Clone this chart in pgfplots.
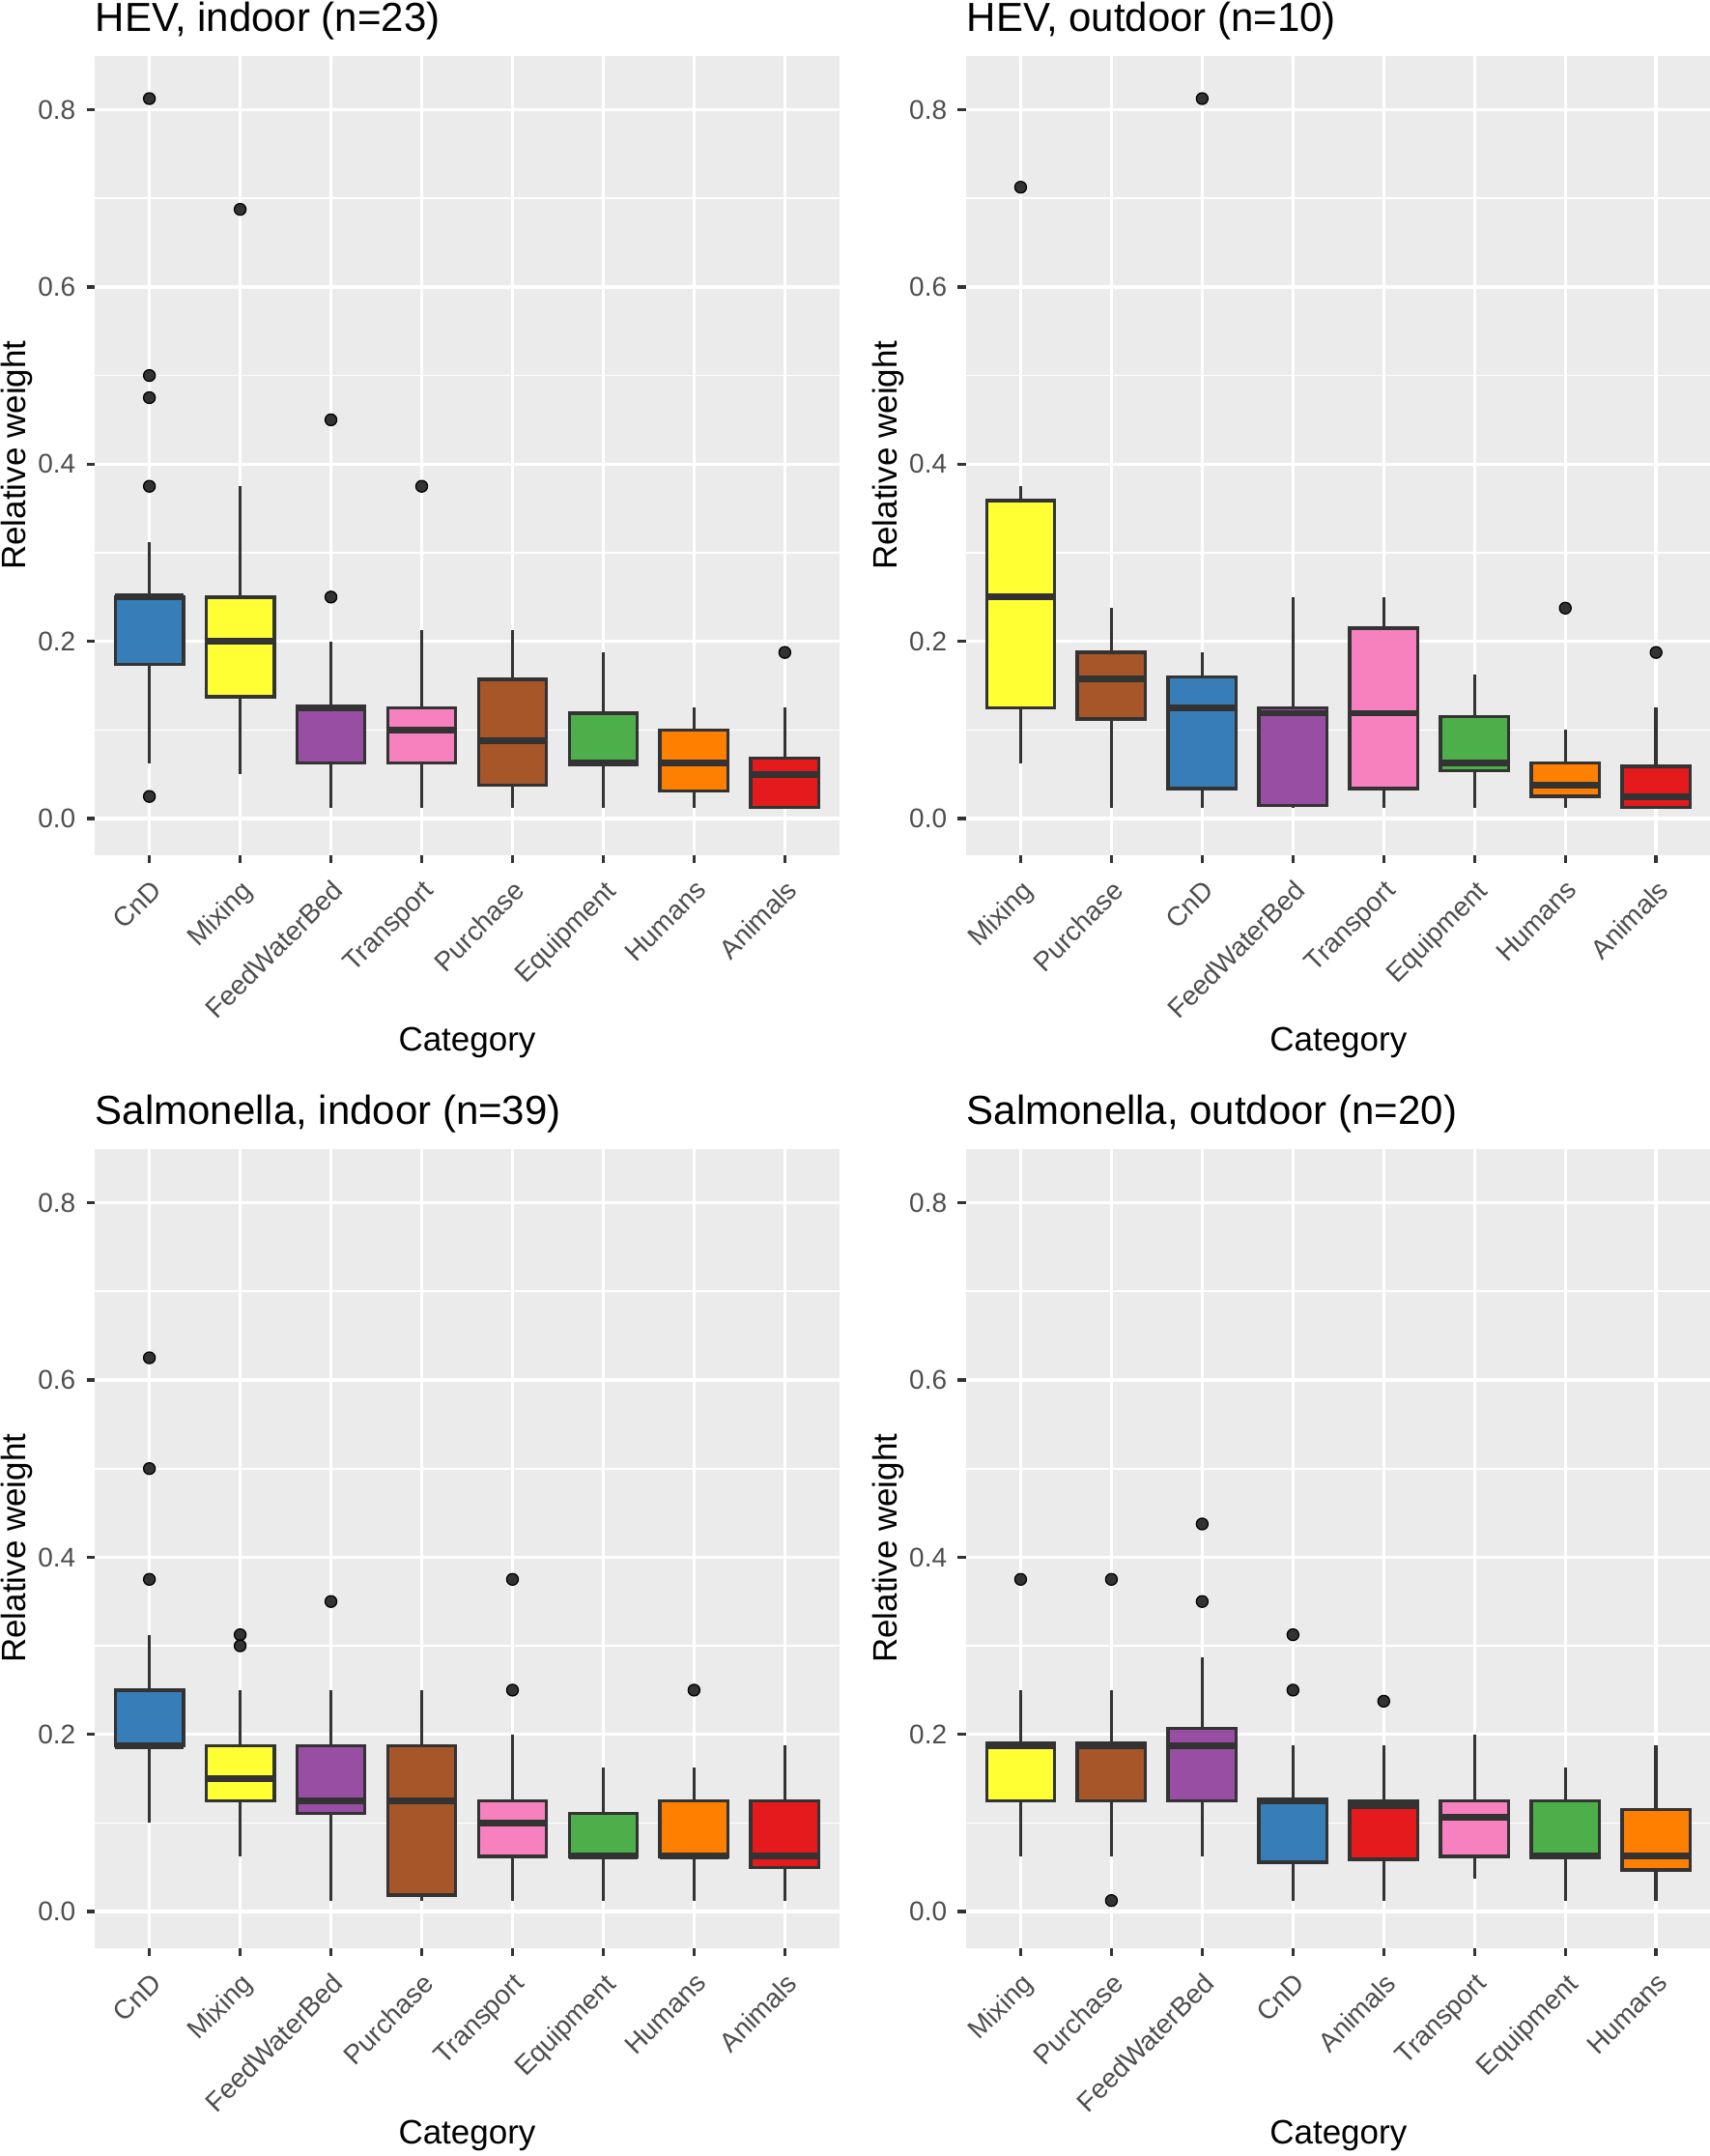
\documentclass[border=0pt]{standalone}
\usepackage{pgfplots}
\pgfplotsset{compat=1.18}
\usepackage{fontspec}
\setmainfont{Liberation Sans}
\definecolor{ggbg}{HTML}{EBEBEB}
\definecolor{gg20}{HTML}{333333}
\definecolor{gg30}{HTML}{4D4D4D}
\definecolor{cCnD}{HTML}{377EB8}
\definecolor{cMix}{HTML}{FFFF33}
\definecolor{cFWB}{HTML}{984EA3}
\definecolor{cTra}{HTML}{F781BF}
\definecolor{cPur}{HTML}{A65628}
\definecolor{cEqu}{HTML}{4DAF4A}
\definecolor{cHum}{HTML}{FF7F00}
\definecolor{cAni}{HTML}{E41A1C}
\pgfplotsset{
 gg/.style={
  scale only axis, width=242.3pt, height=260.1pt,
  xmin=0.4, xmax=8.6, ymin=-0.041, ymax=0.861,
  axis background/.style={fill=ggbg},
  axis line style={draw=none},
  xtick={1,2,3,4,5,6,7,8},
  ytick={0,0.2,0.4,0.6,0.8}, yticklabels={0.0,0.2,0.4,0.6,0.8},
  minor ytick={0.1,0.3,0.5,0.7},
  xtick pos=bottom, ytick pos=left,
  grid=both,
  major grid style={white, line width=1.07pt},
  minor grid style={white, line width=0.53pt},
  tick align=outside, major tick length=2.75pt, minor tick length=0pt,
  major tick style={draw=gg20, line width=1.07pt},
  tick label style={font=\fontsize{8.8}{10}\selectfont, text=gg30},
  xticklabel style={rotate=45, anchor=north east},
  every axis title/.style={at={(axis description cs:0,1)}, anchor=base west, inner xsep=0pt, yshift=8pt, font=\fontsize{13.2}{15}\selectfont},
  xlabel={Category}, ylabel={Relative weight},
  every axis x label/.style={at={(axis description cs:0.5,-0.235)}, anchor=center, font=\fontsize{11}{13}\selectfont},
  every axis y label/.style={at={(axis description cs:-0.105,0.5)}, rotate=90, anchor=center, font=\fontsize{11}{13}\selectfont},
 },
 wsk/.style={draw=gg20, line width=1.07pt, mark=none, forget plot},
 bxs/.style={draw=gg20, line width=1.07pt, mark=none, line join=miter, forget plot},
 mdn/.style={draw=gg20, line width=2.13pt, mark=none, forget plot},
 outl/.style={only marks, mark=*, mark size=1.9pt, mark options={fill=gg20, draw=none}, forget plot},
}
% #1 left, #2 centre, #3 right, #4 colour, #5 lower whisker, #6 lower quartile, #7 median, #8 upper quartile, #9 upper whisker
\newcommand{\bx}[9]{%
 \addplot[wsk] coordinates {(#2,#5) (#2,#6)};
 \addplot[wsk] coordinates {(#2,#8) (#2,#9)};
 \addplot[bxs, fill=#4] coordinates {(#1,#6) (#3,#6) (#3,#8) (#1,#8)} --cycle;
 \addplot[mdn] coordinates {(#1,#7) (#3,#7)};
}
\begin{document}
\begin{tikzpicture}
\useasboundingbox (0pt,0pt) rectangle (556.6pt,-701.6pt);
% HEV indoor
\begin{axis}[gg, at={(30.9pt,-18.1pt)}, anchor=north west, title={HEV, indoor (n=23)},
  xticklabels={CnD,Mixing,FeedWaterBed,Transport,Purchase,Equipment,Humans,Animals}]
\bx{0.625}{1}{1.375}{cCnD}{0.0625}{0.174}{0.25}{0.25}{0.3125}
\bx{1.625}{2}{2.375}{cMix}{0.05}{0.1375}{0.2}{0.25}{0.375}
\bx{2.625}{3}{3.375}{cFWB}{0.0125}{0.0625}{0.125}{0.127}{0.2}
\bx{3.625}{4}{4.375}{cTra}{0.0125}{0.0625}{0.1}{0.125}{0.2125}
\bx{4.625}{5}{5.375}{cPur}{0.0125}{0.0375}{0.0875}{0.157}{0.2125}
\bx{5.625}{6}{6.375}{cEqu}{0.0125}{0.061}{0.0625}{0.119}{0.1875}
\bx{6.625}{7}{7.375}{cHum}{0.0125}{0.031}{0.0625}{0.1}{0.125}
\bx{7.625}{8}{8.375}{cAni}{0.0125}{0.0125}{0.05}{0.068}{0.125}
\addplot[outl] coordinates {(1,0.8125) (1,0.5) (1,0.475) (1,0.375) (1,0.025) (2,0.6875) (3,0.45) (3,0.25) (4,0.375) (8,0.1875)};
\end{axis}
% HEV outdoor
\begin{axis}[gg, at={(314.5pt,-18.1pt)}, anchor=north west, title={HEV, outdoor (n=10)},
  xticklabels={Mixing,Purchase,CnD,FeedWaterBed,Transport,Equipment,Humans,Animals}]
\bx{0.625}{1}{1.375}{cMix}{0.0625}{0.125}{0.25}{0.359}{0.375}
\bx{1.625}{2}{2.375}{cPur}{0.0125}{0.1125}{0.158}{0.1875}{0.2375}
\bx{2.625}{3}{3.375}{cCnD}{0.0125}{0.034}{0.125}{0.16}{0.1875}
\bx{3.625}{4}{4.375}{cFWB}{0.0125}{0.015}{0.119}{0.125}{0.25}
\bx{4.625}{5}{5.375}{cTra}{0.0125}{0.034}{0.119}{0.215}{0.25}
\bx{5.625}{6}{6.375}{cEqu}{0.0125}{0.054}{0.0625}{0.115}{0.1625}
\bx{6.625}{7}{7.375}{cHum}{0.0125}{0.025}{0.0375}{0.0625}{0.1}
\bx{7.625}{8}{8.375}{cAni}{0.0125}{0.0125}{0.025}{0.059}{0.125}
\addplot[outl] coordinates {(1,0.7125) (3,0.8125) (7,0.2375) (8,0.1875)};
\end{axis}
% Salmonella indoor
\begin{axis}[gg, at={(30.9pt,-373.8pt)}, anchor=north west, title={Salmonella, indoor (n=39)},
  xticklabels={CnD,Mixing,FeedWaterBed,Purchase,Transport,Equipment,Humans,Animals}]
\bx{0.625}{1}{1.375}{cCnD}{0.1}{0.1875}{0.1875}{0.25}{0.3125}
\bx{1.625}{2}{2.375}{cMix}{0.0625}{0.125}{0.15}{0.1875}{0.25}
\bx{2.625}{3}{3.375}{cFWB}{0.0125}{0.111}{0.125}{0.1875}{0.25}
\bx{3.625}{4}{4.375}{cPur}{0.0125}{0.0185}{0.125}{0.1875}{0.25}
\bx{4.625}{5}{5.375}{cTra}{0.0125}{0.0625}{0.1}{0.125}{0.2}
\bx{5.625}{6}{6.375}{cEqu}{0.0125}{0.0625}{0.0625}{0.111}{0.1625}
\bx{6.625}{7}{7.375}{cHum}{0.0125}{0.0625}{0.0625}{0.125}{0.1625}
\bx{7.625}{8}{8.375}{cAni}{0.0125}{0.05}{0.0625}{0.125}{0.1875}
\addplot[outl] coordinates {(1,0.625) (1,0.5) (1,0.375) (2,0.3125) (2,0.3) (3,0.35) (5,0.375) (5,0.25) (7,0.25)};
\end{axis}
% Salmonella outdoor
\begin{axis}[gg, at={(314.5pt,-373.8pt)}, anchor=north west, title={Salmonella, outdoor (n=20)},
  xticklabels={Mixing,Purchase,FeedWaterBed,CnD,Animals,Transport,Equipment,Humans}]
\bx{0.625}{1}{1.375}{cMix}{0.0625}{0.125}{0.1875}{0.19}{0.25}
\bx{1.625}{2}{2.375}{cPur}{0.0625}{0.125}{0.1875}{0.19}{0.25}
\bx{2.625}{3}{3.375}{cFWB}{0.0625}{0.125}{0.1875}{0.207}{0.2875}
\bx{3.625}{4}{4.375}{cCnD}{0.0125}{0.056}{0.125}{0.127}{0.1875}
\bx{4.625}{5}{5.375}{cAni}{0.0125}{0.059}{0.12}{0.125}{0.1875}
\bx{5.625}{6}{6.375}{cTra}{0.0375}{0.0625}{0.1065}{0.125}{0.2}
\bx{6.625}{7}{7.375}{cEqu}{0.0125}{0.061}{0.0625}{0.125}{0.1625}
\bx{7.625}{8}{8.375}{cHum}{0.0125}{0.047}{0.0625}{0.115}{0.1875}
\addplot[outl] coordinates {(1,0.375) (2,0.375) (2,0.0125) (3,0.4375) (3,0.35) (4,0.3125) (4,0.25) (5,0.2375)};
\end{axis}
\end{tikzpicture}
\end{document}
